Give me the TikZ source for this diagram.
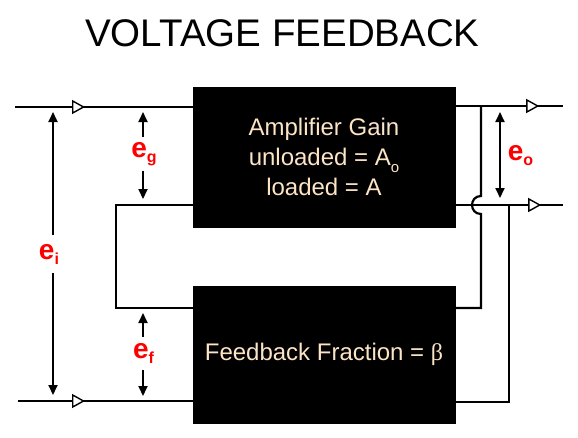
\documentclass[tikz,border=0pt]{standalone}
\usepackage{fontspec}
\setmainfont{Liberation Sans}
\newfontfamily\greekfont{Liberation Serif}
\usetikzlibrary{arrows.meta, positioning, decorations.markings}
\definecolor{blocktext}{RGB}{252,228,196}
\definecolor{voltred}{RGB}{255,0,0}
\newcommand{\volt}[1]{e\raisebox{-5pt}{\fontsize{16}{16}\selectfont #1}}

\begin{document}
\begin{tikzpicture}[
    x=1pt, y=-1pt,
    >={Triangle[length=10pt, width=9pt]},
    block/.style={draw, fill=black, text=blocktext, minimum width=262pt, inner sep=0pt, align=center, font=\fontsize{24}{30}\selectfont},
    wire/.style={line width=2.2pt},
    flow/.style={wire, postaction={decorate}, decoration={markings, mark=at position #1 with {\arrow{Triangle[fill=white, length=13pt, width=14pt, line width=1.4pt]}}}},
    sense/.style={line width=1.8pt, ->},
    vlabel/.style={text=voltred, font=\fontsize{28}{28}\bfseries\selectfont, inner sep=0pt, minimum height=33pt}
]
    \useasboundingbox (0,0) rectangle (578,437);

    % Title
    \node[font=\fontsize{38.5}{38.5}\selectfont] (title) at (282.5,33.5) {VOLTAGE FEEDBACK};

    % Blocks
    \node[block, minimum height=140pt] (amp) at (324,157) {Amplifier Gain\\unloaded = A\raisebox{-7pt}{\fontsize{15}{15}\selectfont o}\\loaded = A};
    \node[block, minimum height=137pt] (fb) at (324,354.5) {Feedback Fraction = {\greekfont β}};

    % Terminals
    \coordinate (inA) at (15,107);
    \coordinate (inB) at (18,401);
    \coordinate (outA) at (563,106);
    \coordinate (outB) at (563,205);
    \coordinate (tapA) at (481,106);
    \coordinate (tapB) at (509,205);
    \coordinate (loopL) at (116,205);
    \coordinate (hop) at (481,205);

    % Signal paths
    \draw[flow=70pt] (inA) -- (inA -| amp.west);
    \draw[flow=67pt] (inB) -- (inB -| fb.west);
    \draw[flow=84pt] (amp.east |- outA) -- (outA);
    \draw[flow=86pt] (amp.east |- outB) -- (outB);

    % Feedback loop
    \draw[wire] (amp.west |- loopL) -- (loopL) |- (fb.west |- 0,308);
    \draw[wire] (tapA) -- ([yshift=9pt]hop) to[out=180, in=180, looseness=1.7] ([yshift=-9pt]hop) |- (fb.east |- 0,308);
    \draw[wire] (tapB) |- (fb.east |- 0,402);

    % Voltages
    \node[vlabel, minimum height=38pt] (ei) at (49,254) {\volt{i}};
    \coordinate (eiTop) at (53,112);
    \coordinate (eiBot) at (53,395);
    \draw[sense] (ei.north -| eiTop) -- (eiTop);
    \draw[sense] (ei.south -| eiBot) -- (eiBot);

    \node[vlabel] (eg) at (144,154) {\volt{g}};
    \coordinate (egTop) at (143,112);
    \coordinate (egBot) at (143,199);
    \draw[sense] (eg.north -| egTop) -- (egTop);
    \draw[sense] (eg.south -| egBot) -- (egBot);

    \node[vlabel] (ef) at (143.5,353.5) {\volt{f}};
    \coordinate (efTop) at (143,313);
    \coordinate (efBot) at (143,396);
    \draw[sense] (ef.north -| efTop) -- (efTop);
    \draw[sense] (ef.south -| efBot) -- (efBot);

    \node[vlabel, minimum height=0pt] (eo) at (520.5,156) {\volt{o}};
    \coordinate (eoTop) at (500,112);
    \coordinate (eoBot) at (500,198);
    \draw[sense, <->] (eoTop) -- (eoBot);
\end{tikzpicture}
\end{document}
